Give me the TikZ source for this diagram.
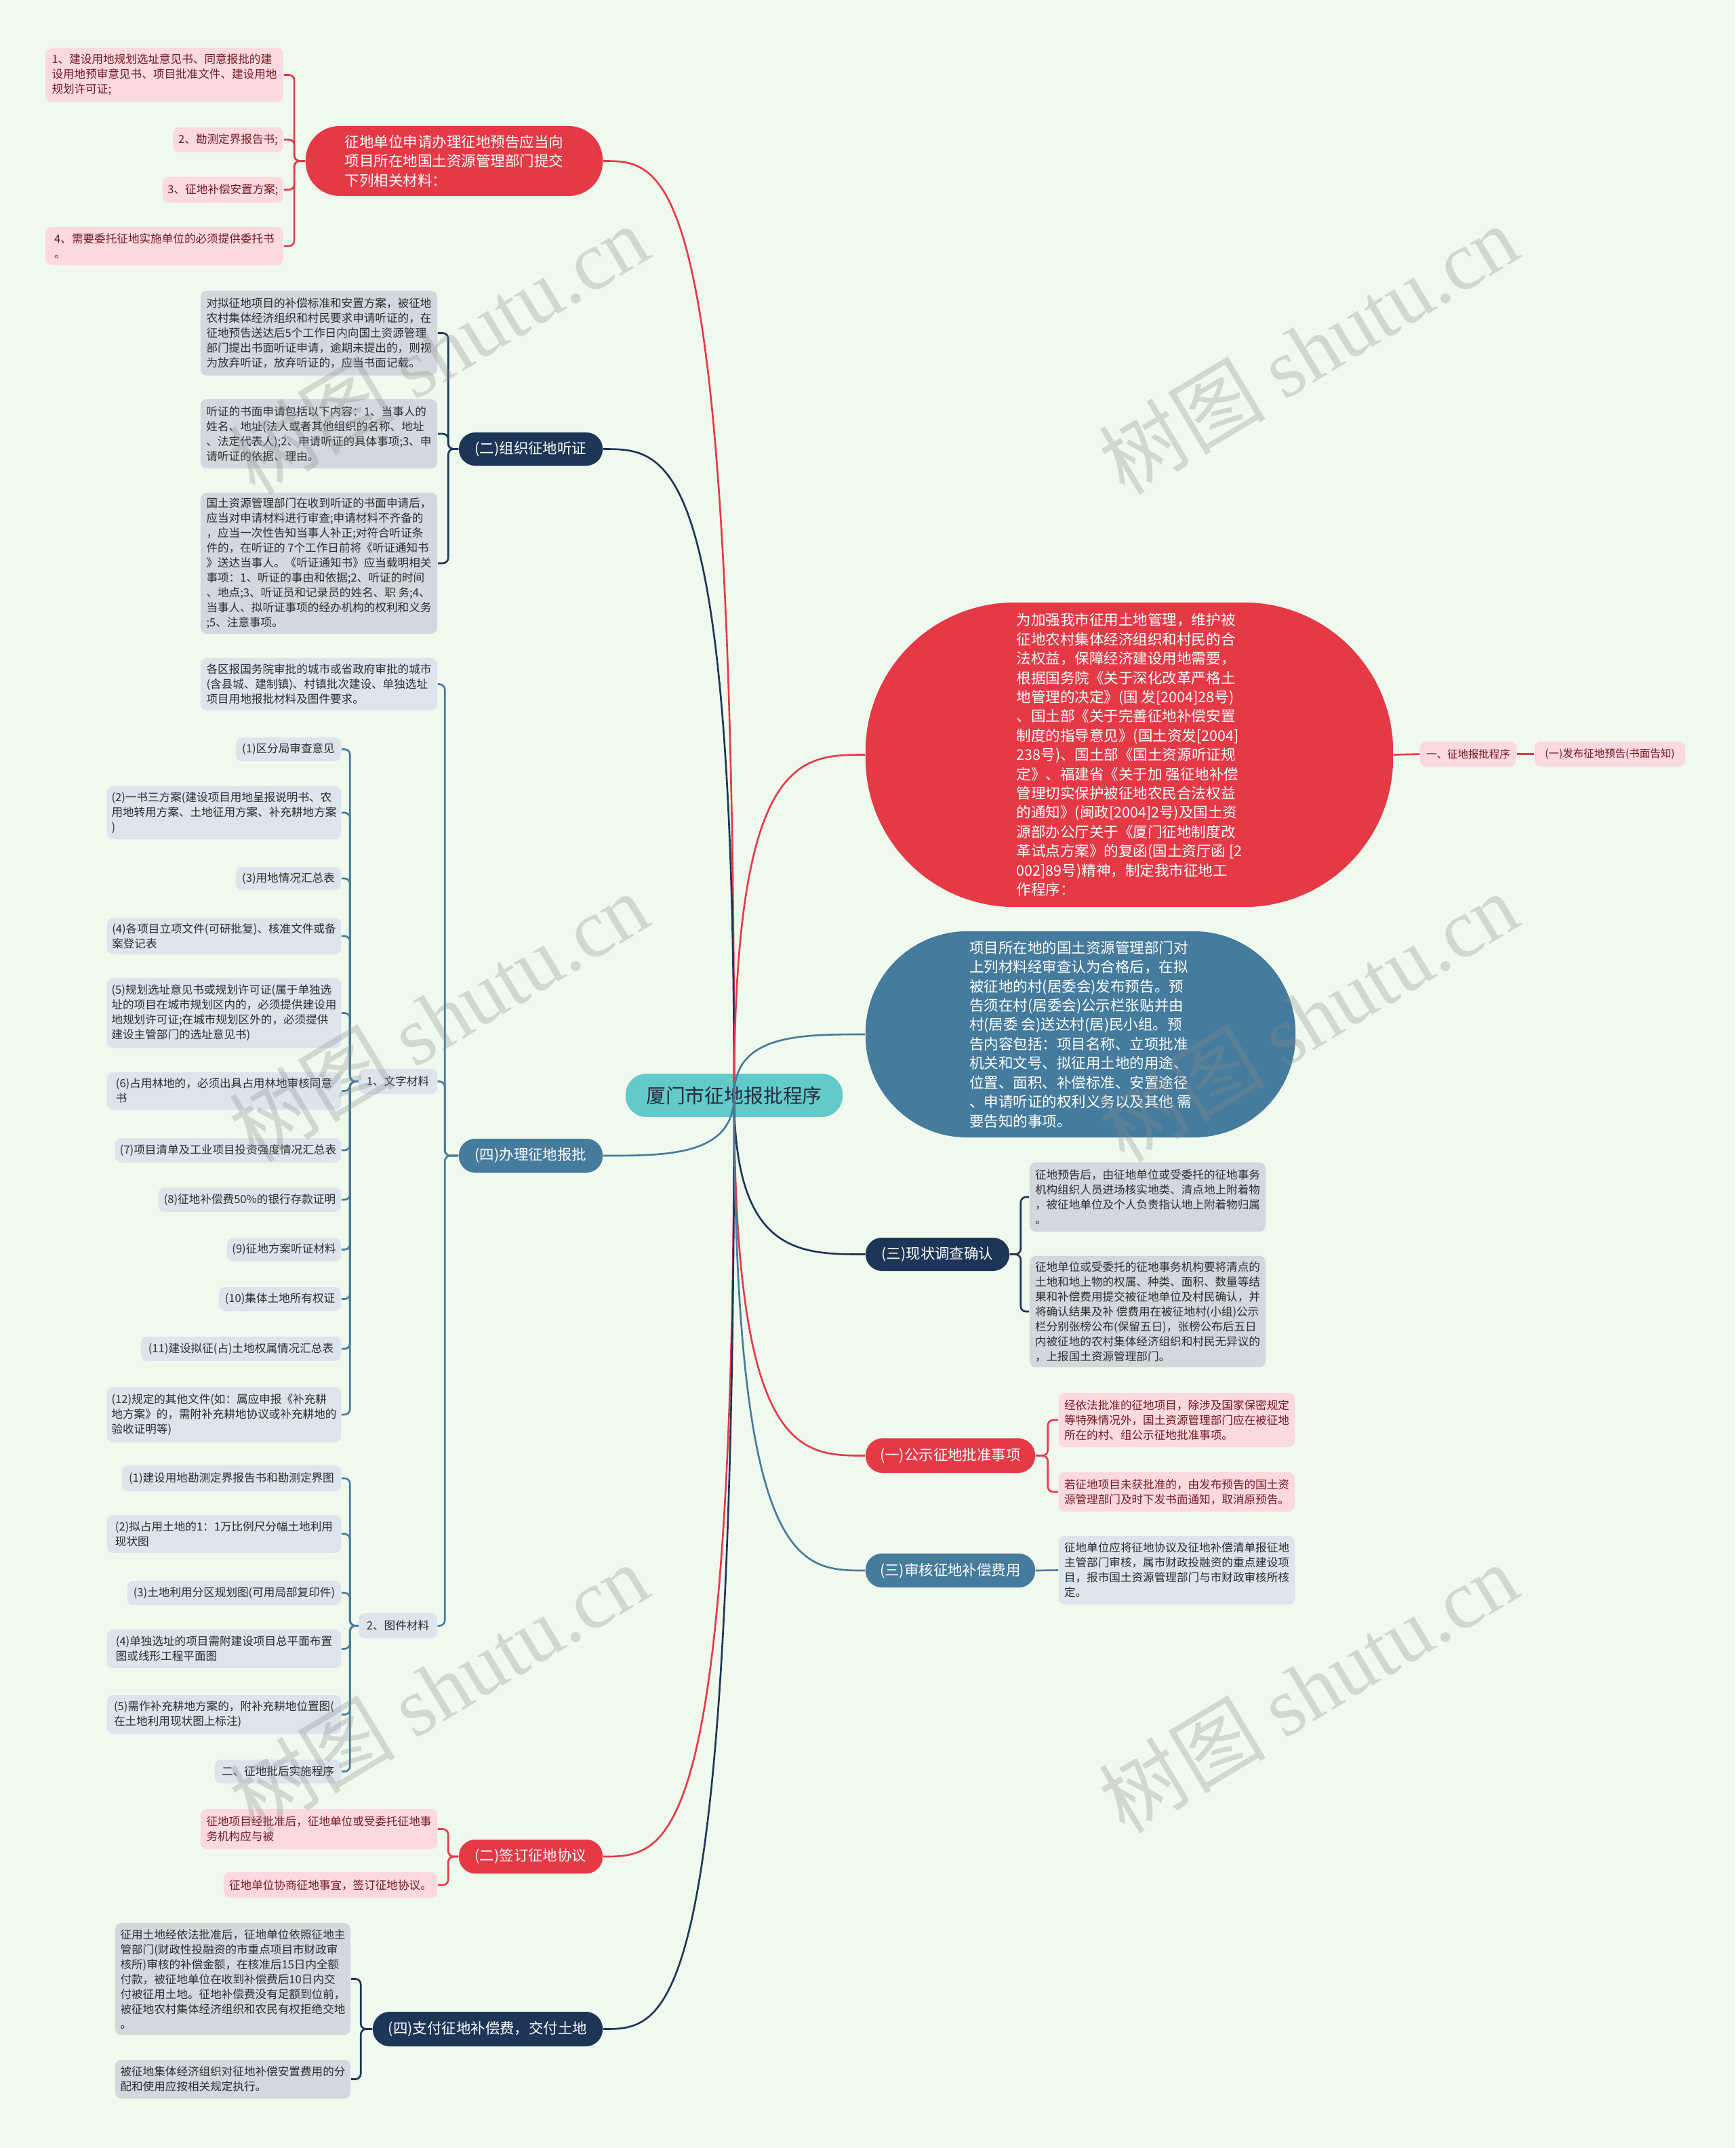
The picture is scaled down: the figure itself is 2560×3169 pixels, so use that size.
\documentclass[tikz,border=0pt]{standalone}
\usepackage{fontspec}
\setmainfont{Noto Sans CJK SC}
\newfontfamily\wmlatin{Liberation Serif}
\usetikzlibrary{calc}
\definecolor{bgc}{RGB}{240,249,238}
\definecolor{cred}{RGB}{230,57,70}
\definecolor{cnavy}{RGB}{29,53,87}
\definecolor{cblue}{RGB}{69,123,157}
\definecolor{ccyan}{RGB}{98,203,201}
\definecolor{ctext}{RGB}{35,45,60}
\definecolor{pinkf}{RGB}{251,217,222}
\definecolor{pinkt}{RGB}{115,25,35}
\definecolor{grayf}{RGB}{211,216,222}
\definecolor{bluef}{RGB}{220,228,236}
\definecolor{leaft}{RGB}{45,45,45}
\newcommand\myleaf{\fontsize{4.72pt}{6.26pt}\selectfont}
\newcommand\mybr{\fontsize{6.1pt}{8pt}\selectfont}
\newcommand\mybig{\fontsize{6.12pt}{8.08pt}\selectfont}
\newcommand\myctr{\fontsize{8.2pt}{10pt}\selectfont}
\newcommand\mytiny{\fontsize{4.4pt}{5.5pt}\selectfont}
\begin{document}
\begin{tikzpicture}[x=0.01cm,y=-0.01cm,
 box/.style={rectangle, rounded corners=0.09cm, inner sep=0pt, align=left, font=\myleaf},
 pk/.style={box, fill=pinkf, text=pinkt},
 gy/.style={box, fill=grayf, text=leaft},
 bl/.style={box, fill=bluef, text=leaft},
 pill/.style={rectangle, inner sep=0pt, text=white, font=\mybr, align=left},
 cR/.style={draw=cred, line width=0.75pt},
 cN/.style={draw=cnavy, line width=0.75pt},
 cB/.style={draw=cblue, line width=0.75pt},
 br/.style={rounded corners=0.08cm},
 wm/.style={rotate=31, text=black!45, opacity=0.3, font=\fontsize{35pt}{40pt}\selectfont},
]
\fill[bgc] (0,0) rectangle (2560,3169);
\useasboundingbox (0,0) rectangle (2560,3169);

% center
\node[fill=ccyan, rounded corners=0.31cm, minimum width=3.2cm, minimum height=0.64cm, text=ctext, font=\myctr, inner sep=0pt] (ctr) at (1083,1616) {厦门市征地报批程序};

% top-left red group
\node[pill, fill=cred, rounded corners=0.5cm, minimum width=4.38cm, minimum height=1.03cm, font=\mybig] (r1) at (670,237.5) {征地单位申请办理征地预告应当向\\项目所在地国土资源管理部门提交\\下列相关材料：};
\node[pk, minimum width=3.51cm, minimum height=0.79cm] (l1) at (242.5,110.5) {1、建设用地规划选址意见书、同意报批的建\\设用地预审意见书、项目批准文件、建设用地\\规划许可证;};
\node[pk, minimum width=1.63cm, minimum height=0.36cm] (l2) at (336.5,206) {2、勘测定界报告书;};
\node[pk, minimum width=1.78cm, minimum height=0.38cm] (l3) at (329,280) {3、征地补偿安置方案;};
\node[pk, minimum width=3.51cm, minimum height=0.56cm] (l4) at (242.5,363) {4、需要委托征地实施单位的必须提供委托书\\。};

% (二)组织征地听证
\node[pill, fill=cnavy, rounded corners=0.24cm, minimum width=2.12cm, minimum height=0.49cm] (n1) at (783,662.5) {(二)组织征地听证};
\node[gy, minimum width=3.49cm, minimum height=1.25cm] (g1) at (470.5,491.5) {对拟征地项目的补偿标准和安置方案，被征地\\农村集体经济组织和村民要求申请听证的，在\\征地预告送达后5个工作日内向国土资源管理\\部门提出书面听证申请，逾期未提出的，则视\\为放弃听证，放弃听证的，应当书面记载。};
\node[gy, minimum width=3.49cm, minimum height=1.02cm] (g2) at (470.5,640) {听证的书面申请包括以下内容：1、当事人的\\姓名、地址(法人或者其他组织的名称、地址\\、法定代表人);2、申请听证的具体事项;3、申\\请听证的依据、理由。};
\node[gy, minimum width=3.49cm, minimum height=2.08cm] (g3) at (470.5,831) {国土资源管理部门在收到听证的书面申请后，\\应当对申请材料进行审查;申请材料不齐备的\\，应当一次性告知当事人补正;对符合听证条\\件的，在听证的 7个工作日前将《听证通知书\\》送达当事人。《听证通知书》应当载明相关\\事项：1、听证的事由和依据;2、听证的时间\\、地点;3、听证员和记录员的姓名、职 务;4、\\当事人、拟听证事项的经办机构的权利和义务\\;5、注意事项。};

% (四)办理征地报批
\node[pill, fill=cblue, rounded corners=0.24cm, minimum width=2.12cm, minimum height=0.5cm] (b) at (783,1705) {(四)办理征地报批};
\node[bl, minimum width=3.49cm, minimum height=0.77cm] (b0) at (470.5,1009.5) {各区报国务院审批的城市或省政府审批的城市\\(含县城、建制镇)、村镇批次建设、单独选址\\项目用地报批材料及图件要求。};
\node[bl, minimum width=1.16cm, minimum height=0.37cm] (w) at (587,1595.5) {1、文字材料};
\node[bl, minimum width=1.16cm, minimum height=0.37cm] (t) at (587,2398.5) {2、图件材料};
\node[bl, minimum width=1.55cm, minimum height=0.35cm] (w1) at (425.5,1105.5) {(1)区分局审查意见};
\node[bl, minimum width=3.45cm, minimum height=0.78cm] (w2) at (330.5,1199) {(2)一书三方案(建设项目用地呈报说明书、农\\用地转用方案、土地征用方案、补充耕地方案\\)};
\node[bl, minimum width=1.55cm, minimum height=0.34cm] (w3) at (425.5,1296) {(3)用地情况汇总表};
\node[bl, minimum width=3.45cm, minimum height=0.54cm] (w4) at (330.5,1381) {(4)各项目立项文件(可研批复)、核准文件或备\\案登记表};
\node[bl, minimum width=3.45cm, minimum height=1.03cm] (w5) at (330.5,1494.5) {(5)规划选址意见书或规划许可证(属于单独选\\址的项目在城市规划区内的，必须提供建设用\\地规划许可证;在城市规划区外的，必须提供\\建设主管部门的选址意见书)};
\node[bl, minimum width=3.45cm, minimum height=0.55cm] (w6) at (330.5,1609.5) {(6)占用林地的，必须出具占用林地审核同意\\书};
\node[bl, minimum width=3.33cm, minimum height=0.36cm] (w7) at (336.5,1697) {(7)项目清单及工业项目投资强度情况汇总表};
\node[bl, minimum width=2.69cm, minimum height=0.36cm] (w8) at (368.5,1770) {(8)征地补偿费50\%的银行存款证明};
\node[bl, minimum width=1.68cm, minimum height=0.35cm] (w9) at (419,1843.5) {(9)征地方案听证材料};
\node[bl, minimum width=1.80cm, minimum height=0.35cm] (w10) at (413,1916.5) {(10)集体土地所有权证};
\node[bl, minimum width=2.95cm, minimum height=0.36cm] (w11) at (355.5,1990) {(11)建设拟征(占)土地权属情况汇总表};
\node[bl, minimum width=3.45cm, minimum height=0.82cm] (w12) at (330.5,2087) {(12)规定的其他文件(如：属应申报《补充耕\\地方案》的，需附补充耕地协议或补充耕地的\\验收证明等)};
\node[bl, minimum width=3.23cm, minimum height=0.38cm] (t1) at (341.5,2181) {(1)建设用地勘测定界报告书和勘测定界图};
\node[bl, minimum width=3.45cm, minimum height=0.56cm] (t2) at (330.5,2263) {(2)拟占用土地的1：1万比例尺分幅土地利用\\现状图};
\node[bl, minimum width=3.15cm, minimum height=0.36cm] (t3) at (345.5,2350) {(3)土地利用分区规划图(可用局部复印件)};
\node[bl, minimum width=3.45cm, minimum height=0.57cm] (t4) at (330.5,2432.5) {(4)单独选址的项目需附建设项目总平面布置\\图或线形工程平面图};
\node[bl, minimum width=3.45cm, minimum height=0.57cm] (t5) at (330.5,2529.5) {(5)需作补充耕地方案的，附补充耕地位置图(\\在土地利用现状图上标注)};
\node[bl, minimum width=1.86cm, minimum height=0.35cm] (t6) at (410,2613.5) {二、征地批后实施程序};

% (二)签订征地协议
\node[pill, fill=cred, rounded corners=0.24cm, minimum width=2.12cm, minimum height=0.5cm] (s) at (783,2739) {(二)签订征地协议};
\node[pk, minimum width=3.49cm, minimum height=0.59cm] (p1) at (470.5,2698.5) {征地项目经批准后，征地单位或受委托征地事\\务机构应与被};
\node[pk, minimum width=3.15cm, minimum height=0.38cm] (p2) at (487.5,2781) {征地单位协商征地事宜，签订征地协议。};

% (四)支付征地补偿费，交付土地
\node[pill, fill=cnavy, rounded corners=0.25cm, minimum width=3.39cm, minimum height=0.51cm] (z) at (719.5,2993.5) {(四)支付征地补偿费，交付土地};
\node[gy, minimum width=3.47cm, minimum height=1.65cm] (q1) at (343.5,2919.5) {征用土地经依法批准后，征地单位依照征地主\\管部门(财政性投融资的市重点项目市财政审\\核所)审核的补偿金额，在核准后15日内全额\\付款，被征地单位在收到补偿费后10日内交\\付被征用土地。征地补偿费没有足额到位前，\\被征地农村集体经济组织和农民有权拒绝交地\\。};
\node[gy, minimum width=3.47cm, minimum height=0.57cm] (q2) at (343.5,3067.5) {被征地集体经济组织对征地补偿安置费用的分\\配和使用应按相关规定执行。};

% right side
\node[pill, fill=cred, rounded corners=2.2cm, minimum width=7.78cm, minimum height=4.49cm, font=\mybig] (R) at (1666,1113.5) {为加强我市征用土地管理，维护被\\征地农村集体经济组织和村民的合\\法权益，保障经济建设用地需要，\\根据国务院《关于深化改革严格土\\地管理的决定》(国 发[2004]28号)\\、国土部《关于完善征地补偿安置\\制度的指导意见》(国土资发[2004]\\238号)、国土部《国土资源听证规\\定》、福建省《关于加 强征地补偿\\管理切实保护被征地农民合法权益\\的通知》(闽政[2004]2号)及国土资\\源部办公厅关于《厦门征地制度改\\革试点方案》的复函(国土资厅函 [2\\002]89号)精神，制定我市征地工\\作程序：};
\node[pk, font=\mytiny, minimum width=1.42cm, minimum height=0.37cm] (e1) at (2166,1112.5) {一、征地报批程序};
\node[pk, font=\mytiny, minimum width=2.22cm, minimum height=0.37cm] (e2) at (2375,1112.5) {(一)发布征地预告(书面告知)};
\node[pill, fill=cblue, rounded corners=1.5cm, minimum width=6.34cm, minimum height=3.04cm, font=\mybig] (U) at (1594,1526) {项目所在地的国土资源管理部门对\\上列材料经审查认为合格后，在拟\\被征地的村(居委会)发布预告。预\\告须在村(居委会)公示栏张贴并由\\村(居委 会)送达村(居)民小组。预\\告内容包括：项目名称、立项批准\\机关和文号、拟征用土地的用途、\\位置、面积、补偿标准、安置途径\\、申请听证的权利义务以及其他 需\\要告知的事项。};
\node[pill, fill=cnavy, rounded corners=0.24cm, minimum width=2.12cm, minimum height=0.49cm] (c) at (1383,1850.5) {(三)现状调查确认};
\node[gy, minimum width=3.48cm, minimum height=1.02cm] (c1) at (1693,1766) {征地预告后，由征地单位或受委托的征地事务\\机构组织人员进场核实地类、清点地上附着物\\，被征地单位及个人负责指认地上附着物归属\\。};
\node[gy, minimum width=3.48cm, minimum height=1.64cm] (c2) at (1693,1935) {征地单位或受委托的征地事务机构要将清点的\\土地和地上物的权属、种类、面积、数量等结\\果和补偿费用提交被征地单位及村民确认，并\\将确认结果及补 偿费用在被征地村(小组)公示\\栏分别张榜公布(保留五日)，张榜公布后五日\\内被征地的农村集体经济组织和村民无异议的\\，上报国土资源管理部门。};
\node[pill, fill=cred, rounded corners=0.25cm, minimum width=2.5cm, minimum height=0.51cm] (a) at (1402,2147.5) {(一)公示征地批准事项};
\node[pk, minimum width=3.48cm, minimum height=0.8cm] (a1) at (1736,2095) {经依法批准的征地项目，除涉及国家保密规定\\等特殊情况外，国土资源管理部门应在被征地\\所在的村、组公示征地批准事项。};
\node[pk, minimum width=3.48cm, minimum height=0.58cm] (a2) at (1736,2201) {若征地项目未获批准的，由发布预告的国土资\\源管理部门及时下发书面通知，取消原预告。};
\node[pill, fill=cblue, rounded corners=0.24cm, minimum width=2.5cm, minimum height=0.5cm] (v) at (1402,2317) {(三)审核征地补偿费用};
\node[bl, minimum width=3.48cm, minimum height=1.01cm] (v1) at (1736,2316.5) {征地单位应将征地协议及征地补偿清单报征地\\主管部门审核，属市财政投融资的重点建设项\\目，报市国土资源管理部门与市财政审核所核\\定。};

% bracket connectors
\foreach \k in {l1,l2,l3,l4} \draw[cR,br] (r1.west) -- ++(-16,0) |- (\k.east);
\foreach \k in {g1,g2,g3} \draw[cN,br] (n1.west) -- ++(-15,0) |- (\k.east);
\foreach \k in {b0,w,t} \draw[cB,br] (b.west) -- ++(-20,0) |- (\k.east);
\foreach \k in {w1,w2,w3,w4,w5,w6,w7,w8,w9,w10,w11,w12} \draw[cB,br] (w.west) -- ++(-12,0) |- (\k.east);
\foreach \k in {t1,t2,t3,t4,t5,t6} \draw[cB,br] (t.west) -- ++(-12,0) |- (\k.east);
\foreach \k in {p1,p2} \draw[cR,br] (s.west) -- ++(-15,0) |- (\k.east);
\foreach \k in {q1,q2} \draw[cN,br] (z.west) -- ++(-17,0) |- (\k.east);
\foreach \k in {c1,c2} \draw[cN,br] (c.east) -- ++(16,0) |- (\k.west);
\foreach \k in {a1,a2} \draw[cR,br] (a.east) -- ++(18,0) |- (\k.west);
\draw[cB] (v.east) -- (v1.west);
\draw[cR] (R.east) -- (e1.west);
\draw[cR] (e1.east) -- (e2.west);

% main curves from center
\foreach \k/\s in {r1/cR,n1/cN,b/cB,s/cR,z/cN}
  \draw[\s] (ctr.center) .. controls (ctr.center |- \k.east) and ($(ctr.center |- \k.east)!0.5!(\k.east)$) .. (\k.east);
\foreach \k/\s in {R/cR,U/cB,c/cN,a/cR,v/cB}
  \draw[\s] (ctr.center) .. controls (ctr.center |- \k.west) and ($(ctr.center |- \k.west)!0.5!(\k.west)$) .. (\k.west);

% watermarks
\foreach \p in {(647,515),(1930,515),(647,1500),(1930,1500),(647,2490),(1930,2490)}
  \node[wm] at \p {树图 {\wmlatin shutu.cn}};
\end{tikzpicture}
\end{document}
